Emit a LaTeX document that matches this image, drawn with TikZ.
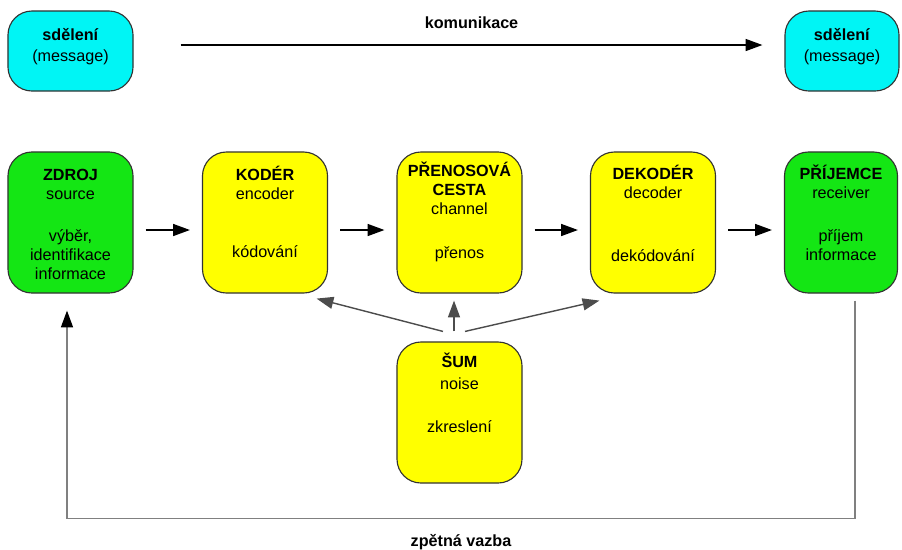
\documentclass[tikz,border=0pt]{standalone}
\usepackage{fontspec}
\setmainfont{Liberation Sans}
\usetikzlibrary{arrows.meta,calc}

\definecolor{msgcyan}{RGB}{0,245,245}
\definecolor{nodegreen}{RGB}{20,230,20}
\definecolor{nodeyellow}{RGB}{255,255,0}

% text of a block: top aligned, first baseline at #1 below the top
\newcommand{\boxtext}[3][0.725cm]{\parbox[c][#2][t]{2.8cm}{\centering\rule{0pt}{#1}#3}}

\tikzset{
  block/.style={draw=black!80, line width=0.8pt, rounded corners=0.6cm, inner sep=0pt, minimum width=3.125cm},
  msg/.style={block, fill=msgcyan},
  green block/.style={block, fill=nodegreen},
  yellow block/.style={block, fill=nodeyellow},
  arr/.style={-{Triangle[length=0.42cm,width=0.3cm]}, line width=1pt, black},
  fb/.style={draw=black!50, line width=1pt, -{Triangle[length=0.42cm,width=0.3cm,color=black]}}
}

\begin{document}
\begin{tikzpicture}[x=0.025cm, y=-0.025cm, font=\fontsize{11.5}{13.5}\selectfont]
\useasboundingbox (0,0) rectangle (902,549);

% message
\node[msg] (msgsrc) at (70.5,51) {\boxtext{2cm}{\textbf{sdělení}\\[0.075cm](message)}};
\node[msg, minimum width=2.85cm] (msgdst) at (842,51) {\boxtext{2cm}{\textbf{sdělení}\\[0.075cm](message)}};
\draw[arr] ($(msgsrc.east)+(47,-6)$) -- node[midway, anchor=base, yshift=0.42cm] {\bfseries komunikace} ($(msgdst.west)+(-22,-6)$);

% chain
\node[green block] (zdroj) at (70.5,222.5) {\boxtext{3.525cm}{\textbf{ZDROJ}\\source\\[0.575cm]výběr,\\identifikace\\informace}};
\node[yellow block] (koder) at (265,222.5) {\boxtext{3.525cm}{\textbf{KODÉR}\\encoder\\[0.975cm]kódování}};
\node[yellow block] (prenos) at (459.5,222.5) {\boxtext[0.625cm]{3.525cm}{\textbf{PŘENOSOVÁ}\\\textbf{CESTA}\\channel\\[0.625cm]přenos}};
\node[yellow block] (dekoder) at (653,222.5) {\boxtext[0.7cm]{3.525cm}{\textbf{DEKODÉR}\\decoder\\[1.1cm]dekódování}};
\node[green block, minimum width=2.825cm] (prijemce) at (841,222.5) {\boxtext[0.7cm]{3.525cm}{\textbf{PŘÍJEMCE}\\receiver\\[0.6cm]příjem\\informace}};

\foreach \a/\b in {zdroj/koder, koder/prenos, prenos/dekoder, dekoder/prijemce}
  \draw[arr, shorten <=0.3cm, shorten >=0.3cm] ($(\a.east)+(0,7.5)$) -- ($(\b.west)+(0,7.5)$);

% noise
\node[yellow block] (sum) at (459.5,412.5) {\boxtext[0.65cm]{3.525cm}{\textbf{ŠUM}\\[0.075cm]noise\\[0.6cm]zkreslení}};
\draw[arr, draw=black!70] ($(sum.north)+(-16.5,-10)$) -- ($(koder.south east)+(-11.5,5)$);
\draw[arr, draw=black!70] ($(sum.north)+(-5.5,-10)$) -- ($(prenos.south)+(-5.5,7)$);
\draw[arr, draw=black!70] ($(sum.north)+(5.5,-10)$) -- ($(dekoder.south west)+(9.5,7)$);

% feedback
\draw[fb] ($(prijemce.south)+(14,7)$) -- ++(0,218) -| node[pos=0.25, anchor=base, yshift=-0.7cm] {\bfseries zpětná vazba} ($(zdroj.south)+(-3.5,17)$);
\end{tikzpicture}
\end{document}
